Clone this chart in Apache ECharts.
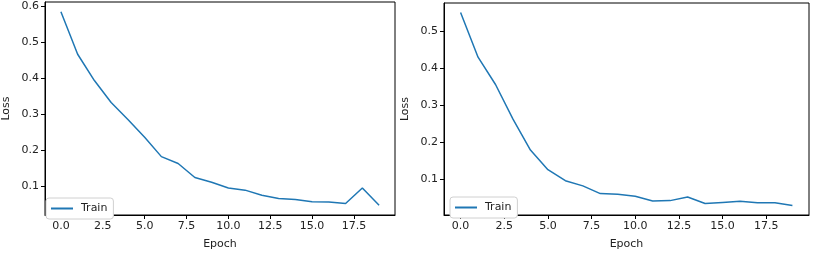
<!DOCTYPE html>
<html><head><meta charset="utf-8">
<script src="https://cdn.jsdelivr.net/npm/echarts@6/dist/echarts.min.js"></script>
<style>html,body{margin:0;padding:0;background:#fff}#c{width:814px;height:255px}</style>
</head><body><div id="c"></div>
<script>
const epochs = [0,1,2,3,4,5,6,7,8,9,10,11,12,13,14,15,16,17,18,19];
const lossLeft = [0.585,0.467,0.394,0.333,0.286,0.237,0.183,0.164,0.125,0.112,0.096,0.090,0.076,0.067,0.064,0.058,0.057,0.053,0.096,0.048];
const lossRight = [0.551,0.430,0.356,0.262,0.178,0.125,0.095,0.081,0.060,0.058,0.053,0.040,0.041,0.051,0.033,0.036,0.039,0.035,0.035,0.028];
const xTicks = [0,2.5,5,7.5,10,12.5,15,17.5];
const yTicksLeft = [0.1,0.2,0.3,0.4,0.5,0.6];
const yTicksRight = [0.1,0.2,0.3,0.4,0.5];
const seriesName = 'Train';
const xName = 'Epoch', yName = 'Loss';

const FONT = 'DejaVu Sans';
const TXT = '#222';
const lineColor = '#1f77b4';

function xAxis(gi){
  return {type:'value', gridIndex:gi, min:-0.95, max:19.95,
    name:xName, nameLocation:'middle', nameGap:24,
    nameTextStyle:{fontFamily:FONT,fontSize:11,color:TXT},
    axisLine:{show:true,onZero:false,lineStyle:{color:'#000',width:1}},
    axisTick:{show:true,length:4,inside:false,customValues:xTicks,lineStyle:{color:'#000'}},
    axisLabel:{customValues:xTicks,formatter:v=>v.toFixed(1),fontFamily:FONT,fontSize:11,color:TXT,margin:6,showMinLabel:true,showMaxLabel:true},
    splitLine:{show:false}};
}
function yAxis(gi,min,max,ticks){
  return {type:'value', gridIndex:gi, min:min, max:max,
    name:yName, nameLocation:'middle', nameGap:33,
    nameTextStyle:{fontFamily:FONT,fontSize:11,color:TXT},
    axisLine:{show:true,onZero:false,lineStyle:{color:'#000',width:1}},
    axisTick:{show:true,length:4,customValues:ticks,lineStyle:{color:'#000'}},
    axisLabel:{customValues:ticks,formatter:v=>v.toFixed(1),fontFamily:FONT,fontSize:11,color:TXT,margin:6},
    splitLine:{show:false}};
}
function legend(left,top,idx){
  return {show:true,left:left,top:top,orient:'vertical',
    data:[{name:seriesName,icon:'rect'}],
    itemWidth:22,itemHeight:2,padding:[5,6,5,5],itemGap:0,
    backgroundColor:'#fff',borderColor:'#d0d0d0',borderWidth:1,borderRadius:3,
    textStyle:{fontFamily:FONT,fontSize:11,color:TXT,padding:[0,0,0,3]},
    selectedMode:false};
}
const chart = echarts.init(document.getElementById('c'),null,{renderer:'canvas'});
chart.setOption({
  animation:false,
  backgroundColor:'#fff',
  grid:[
    {left:41,top:2,width:354,height:221,show:true,borderColor:'#000',borderWidth:1,backgroundColor:'transparent'},
    {left:444,top:3,width:365,height:217,show:true,borderColor:'#000',borderWidth:1,backgroundColor:'transparent'}
  ],
  xAxis:[xAxis(0),xAxis(1)],
  yAxis:[yAxis(0,0.021,0.612,yTicksLeft),yAxis(1,0.002,0.577,yTicksRight)],
  legend:[legend(46,198),legend(450,197)],
  series:[
    {name:seriesName,type:'line',xAxisIndex:0,yAxisIndex:0,data:epochs.map((e,i)=>[e,lossLeft[i]]),
      showSymbol:false,symbol:'none',lineStyle:{color:lineColor,width:1.5},itemStyle:{color:lineColor}},
    {name:seriesName,type:'line',xAxisIndex:1,yAxisIndex:1,data:epochs.map((e,i)=>[e,lossRight[i]]),
      showSymbol:false,symbol:'none',lineStyle:{color:lineColor,width:1.5},itemStyle:{color:lineColor}}
  ]
});
</script></body></html>
